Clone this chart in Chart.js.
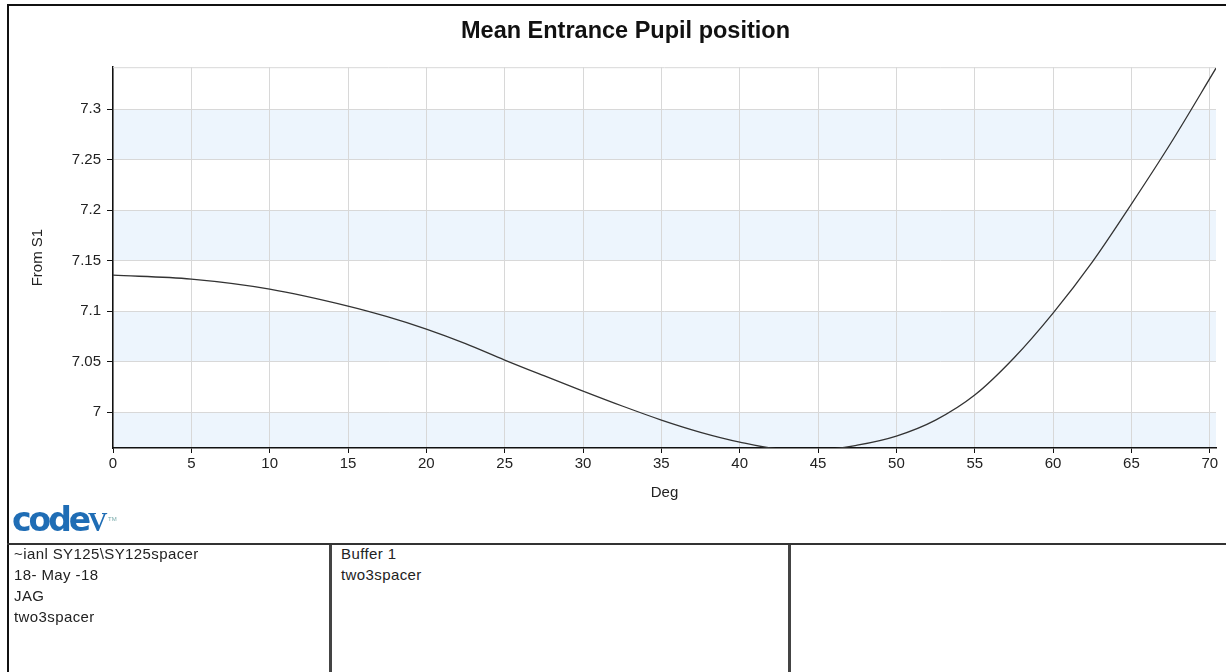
<!DOCTYPE html>
<html>
<head>
<meta charset="utf-8">
<script src="https://cdn.jsdelivr.net/npm/chart.js@4"></script>
<style>
  body { margin: 0; background: #fff; width: 1226px; height: 672px; overflow: hidden; position: relative;
         font-family: "Liberation Sans", Arial, sans-serif; color: #222; }
  #frameTop { position: absolute; left: 7px; top: 4px; width: 1219px; height: 2px; background: #111; }
  #frameLeft { position: absolute; left: 7px; top: 4px; width: 2px; height: 668px; background: #111; }
  #plot { position: absolute; left: 9px; top: 6px; }
  #logo { position: absolute; left: 12px; top: 500px; color: #1f6db5; white-space: nowrap; }
  #logo .c { font-family: "DejaVu Sans", sans-serif; font-weight: 900; font-size: 33px; letter-spacing: -3px; }
  #logo .v { font-family: "Liberation Serif", serif; font-weight: bold; font-size: 27px; position: absolute; left: 76px; top: 7px; }
  #logo .tm { font-size: 6px; position: absolute; left: 96px; top: 16px; color: #7aa; }
  #hline { position: absolute; left: 7px; top: 543px; width: 1219px; height: 2px; background: #333; }
  .vline { position: absolute; top: 545px; width: 3px; height: 127px; background: #444; }
  .cell { position: absolute; top: 543px; font-size: 15px; line-height: 21px; letter-spacing: 0.4px; }
</style>
</head>
<body>
<div id="frameTop"></div>
<div id="frameLeft"></div>
<canvas id="plot" width="1217" height="537"></canvas>
<div id="logo"><span class="c">code</span><span class="v">V</span><span class="tm">TM</span></div>
<div id="hline"></div>
<div class="vline" style="left:329px"></div>
<div class="vline" style="left:788px"></div>
<div class="cell" style="left:14px">~ianl SY125\SY125spacer<br>18- May -18<br>JAG<br>two3spacer</div>
<div class="cell" style="left:341px">Buffer 1<br>two3spacer</div>

<script>
// field angle (deg) and mean entrance pupil position
const deg = [0, 5, 10, 15, 17.5, 20, 22.5, 25, 27.5, 30, 32.5, 35, 37.5, 40, 42.5, 45, 47.5,
             50, 52.5, 55, 57.5, 60, 62.5, 65, 67.5, 70.4];
const pupilPos = [7.1356, 7.1317, 7.1218, 7.105, 7.0945, 7.0822, 7.0678, 7.0515, 7.036, 7.0208,
                  7.006, 6.9921, 6.980, 6.9703, 6.9635, 6.9625, 6.9672,
                  6.9762, 6.992, 7.0168, 7.0535, 7.098, 7.1485, 7.206, 7.266, 7.3406];

const xMin = 0, xMax = 70.4, xStep = 5;
const yMin = 6.9644, yMax = 7.3416, yStep = 0.05;

const chartTitle = 'Mean Entrance Pupil position';
const xTitle = 'Deg';
const yTitle = 'From S1';

Chart.defaults.font.family = '"Liberation Sans", Arial, sans-serif';
Chart.defaults.color = '#222';

// alternate light blue bands between y ticks
const bandPlugin = {
  id: 'bands',
  beforeDraw(chart) {
    const {ctx, chartArea} = chart;
    const y = chart.scales.y;
    const ticks = y.ticks.map(t => t.value).sort((a, b) => b - a);
    ctx.save();
    ctx.fillStyle = '#edf5fd';
    for (let i = 0; i < ticks.length; i += 2) {
      const top = y.getPixelForValue(ticks[i]);
      const bot = i + 1 < ticks.length ? y.getPixelForValue(ticks[i + 1]) : chartArea.bottom;
      ctx.fillRect(chartArea.left, top, chartArea.right - chartArea.left, bot - top);
    }
    ctx.restore();
  },
  beforeDatasetsDraw(chart) {
    const {ctx, chartArea} = chart;
    ctx.save();
    ctx.strokeStyle = '#d8d8d8';
    ctx.lineWidth = 1;
    ctx.beginPath();
    ctx.moveTo(chartArea.left, chartArea.top + 0.5);
    ctx.lineTo(chartArea.right, chartArea.top + 0.5);
    ctx.stroke();
    ctx.restore();
  }
};

const onStep = (v, s) => Math.abs(v / s - Math.round(v / s)) < 1e-6;

new Chart(document.getElementById('plot'), {
  type: 'line',
  data: {
    datasets: [{
      data: deg.map((d, i) => ({x: d, y: pupilPos[i]})),
      borderColor: '#333',
      borderWidth: 1.3,
      pointRadius: 0,
      cubicInterpolationMode: 'monotone',
      fill: false
    }]
  },
  options: {
    responsive: false,
    animation: false,
    devicePixelRatio: 1,
    layout: {padding: {left: 26, right: 10, top: 0, bottom: 0}},
    plugins: {
      legend: {display: false},
      tooltip: {enabled: false},
      title: {
        display: true,
        text: chartTitle,
        color: '#111',
        font: {size: 23.5, weight: 'bold'},
        padding: {top: 11, bottom: 22}
      }
    },
    scales: {
      x: {
        type: 'linear',
        min: xMin,
        max: xMax,
        ticks: {stepSize: xStep, includeBounds: false, font: {size: 15}, padding: 2, maxRotation: 0},
        afterBuildTicks: s => { s.ticks = s.ticks.filter(t => onStep(t.value, xStep)); },
        afterFit: s => { s.height = 95; },
        grid: {color: '#d8d8d8', tickColor: '#111', tickLength: 5},
        border: {color: '#111', width: 1.5},
        title: {display: true, text: xTitle, font: {size: 15}, padding: {top: 0, bottom: 41}}
      },
      y: {
        min: yMin,
        max: yMax,
        ticks: {
          stepSize: yStep,
          includeBounds: false,
          font: {size: 15},
          padding: 6,
          callback: v => String(+v.toFixed(2))
        },
        afterBuildTicks: s => { s.ticks = s.ticks.filter(t => onStep(t.value, yStep)); },
        afterFit: s => { s.width = 78; },
        grid: {color: '#d8d8d8', tickColor: '#111', tickLength: 6},
        border: {color: '#111', width: 1.5},
        title: {display: true, text: yTitle, font: {size: 15}, padding: {top: -6, bottom: 0}}
      }
    }
  },
  plugins: [bandPlugin]
});
</script>
</body>
</html>
